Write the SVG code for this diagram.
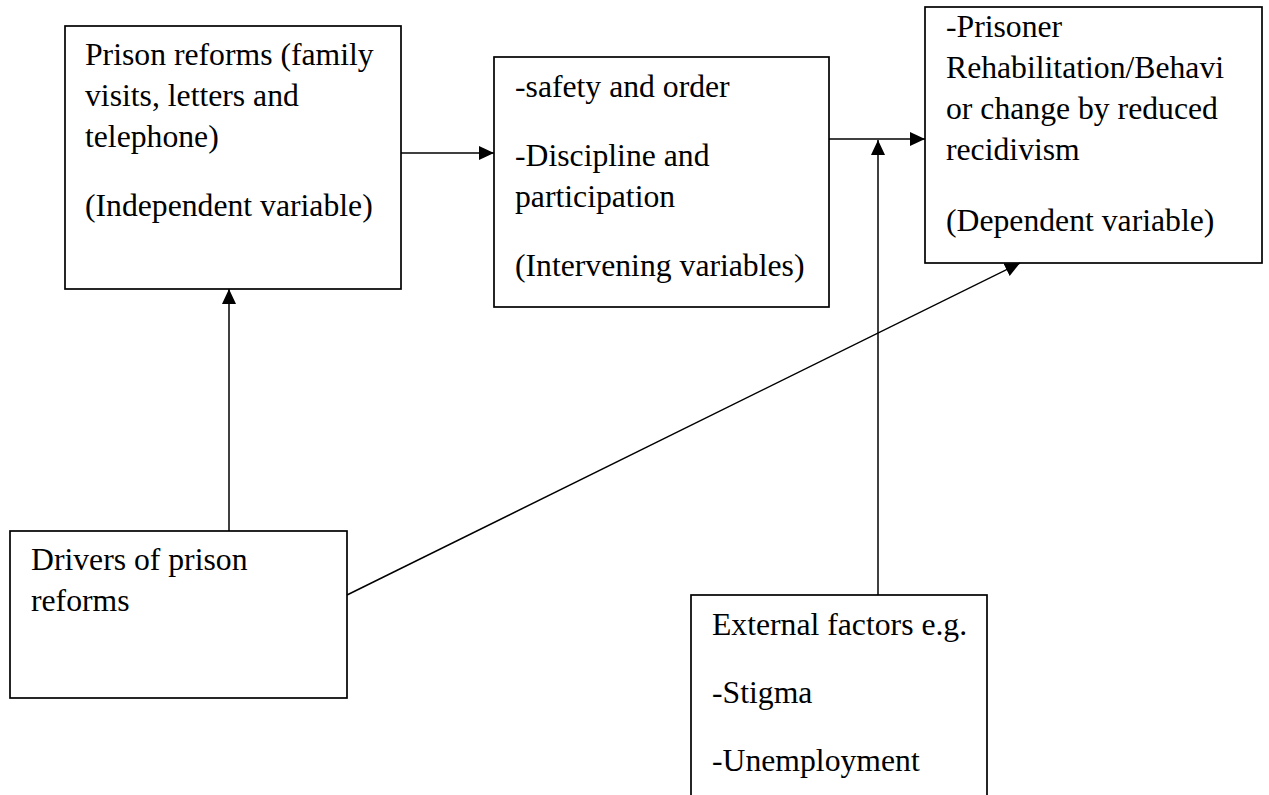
<svg xmlns="http://www.w3.org/2000/svg" width="1269" height="795" viewBox="0 0 1269 795">
  <style>
    .box { fill: #ffffff; stroke: #000000; stroke-width: 1.7; }
    .t { font-family: "Liberation Serif", "Times New Roman", serif; font-size: 31.7px; fill: #000000; }
    .conn { fill: none; stroke: #000000; stroke-width: 1.5; }
  </style>
  <defs>
    <marker id="arrow" markerUnits="userSpaceOnUse" markerWidth="16" markerHeight="15" refX="15" refY="7" orient="auto">
      <path d="M0,0 L15,7 L0,14 Z" fill="#000000"/>
    </marker>
  </defs>
  <rect width="1269" height="795" fill="#ffffff"/>

  <g id="node-prison-reforms">
    <rect class="box" x="65" y="26" width="336" height="263"/>
    <text class="t" x="85" y="65">Prison reforms (family</text>
    <text class="t" x="85" y="106">visits, letters and</text>
    <text class="t" x="85" y="147">telephone)</text>
    <text class="t" x="85" y="216">(Independent variable)</text>
  </g>

  <g id="node-intervening">
    <rect class="box" x="494" y="57" width="335" height="250"/>
    <text class="t" x="515" y="97">-safety and order</text>
    <text class="t" x="515" y="166">-Discipline and</text>
    <text class="t" x="515" y="207">participation</text>
    <text class="t" x="515" y="276">(Intervening variables)</text>
  </g>

  <g id="node-dependent">
    <rect class="box" x="925" y="7" width="337" height="256"/>
    <text class="t" x="946" y="37">-Prisoner</text>
    <text class="t" x="946" y="78">Rehabilitation/Behavi</text>
    <text class="t" x="946" y="119">or change by reduced</text>
    <text class="t" x="946" y="160">recidivism</text>
    <text class="t" x="946" y="231">(Dependent variable)</text>
  </g>

  <g id="node-drivers">
    <rect class="box" x="10" y="531" width="337" height="167"/>
    <text class="t" x="31" y="570">Drivers of prison</text>
    <text class="t" x="31" y="611">reforms</text>
  </g>

  <g id="node-external">
    <rect class="box" x="691" y="595" width="296" height="230"/>
    <text class="t" x="712" y="635">External factors e.g.</text>
    <text class="t" x="712" y="703">-Stigma</text>
    <text class="t" x="712" y="771">-Unemployment</text>
  </g>

  <g id="connectors">
    <line class="conn" x1="401" y1="153" x2="494" y2="153" marker-end="url(#arrow)"/>
    <line class="conn" x1="829" y1="139" x2="925" y2="139" marker-end="url(#arrow)"/>
    <line class="conn" x1="878" y1="595" x2="878" y2="140" marker-end="url(#arrow)"/>
    <line class="conn" x1="347" y1="595" x2="1020" y2="263" marker-end="url(#arrow)" stroke-width="1.3"/>
    <line class="conn" x1="229" y1="531" x2="229" y2="289" marker-end="url(#arrow)"/>
  </g>
</svg>
